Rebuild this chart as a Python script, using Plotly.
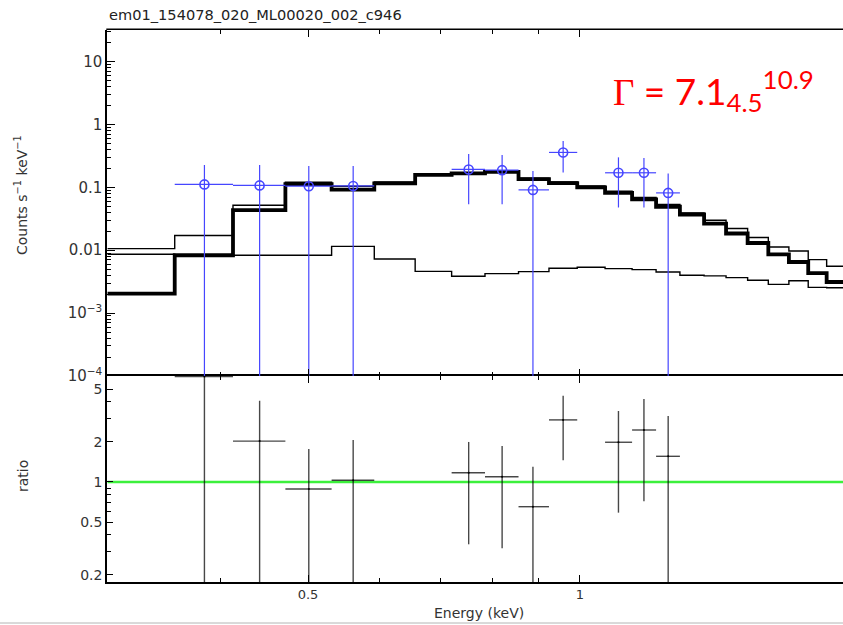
import plotly.graph_objects as go

# ---- spectral bins (keV) and folded model curves (counts s^-1 keV^-1) ----
bin_edges = [0.300, 0.356, 0.413, 0.472, 0.531, 0.592, 0.657, 0.721, 0.785,
             0.855, 0.924, 0.993, 1.066, 1.142, 1.214, 1.290, 1.372, 1.451,
             1.533, 1.616, 1.703, 1.789, 1.875, 1.970]
model_source = [0.00204, 0.0083, 0.0432, 0.112, 0.092, 0.115, 0.157, 0.166,
                0.176, 0.1345, 0.116, 0.0993, 0.0814, 0.064, 0.049, 0.0369,
                0.0265, 0.0184, 0.0130, 0.0086, 0.00649, 0.00433, 0.00312]
model_total = [0.0106, 0.0171, 0.0519, 0.120, 0.104, 0.122, 0.162, 0.171,
               0.181, 0.139, 0.121, 0.105, 0.0865, 0.069, 0.0535, 0.0391,
               0.0299, 0.0221, 0.0159, 0.01124, 0.0097, 0.00708, 0.00554]
model_bkg = [0.0086, 0.0085, 0.0083, 0.0083, 0.0115, 0.00723, 0.00461,
             0.00385, 0.00424, 0.00456, 0.00515, 0.00534, 0.0051, 0.00491,
             0.0045, 0.0040, 0.0039, 0.00366, 0.00332, 0.00286, 0.00327,
             0.00256, 0.00253]

# ---- grouped data points ----
e_mid = [0.384, 0.442, 0.501, 0.561, 0.753, 0.820, 0.887, 0.958, 1.103, 1.177, 1.252]
e_lo = [0.356, 0.413, 0.472, 0.531, 0.721, 0.785, 0.855, 0.924, 1.066, 1.142, 1.214]
e_hi = [0.413, 0.472, 0.531, 0.592, 0.785, 0.855, 0.924, 0.993, 1.142, 1.214, 1.290]
rate = [0.111, 0.107, 0.104, 0.105, 0.192, 0.187, 0.0909, 0.358, 0.170, 0.170, 0.0814]
rate_hi = [0.225, 0.225, 0.217, 0.217, 0.337, 0.325, 0.182, 0.542, 0.299, 0.292, 0.166]
rate_lo = [0, 0, 0, 0, 0.0538, 0.0538, 0, 0.172, 0.0477, 0.0477, 0]
ratio = [6.2, 2.03, 0.886, 1.03, 1.175, 1.096, 0.652, 2.93, 1.99, 2.46, 1.56]
ratio_hi = [30, 4.09, 1.77, 2.07, 2.0, 1.865, 1.30, 4.45, 3.42, 4.21, 3.13]
ratio_lo = [0, 0, 0, 0, 0.34, 0.317, 0, 1.46, 0.588, 0.716, 0]

top_ticks = [1e-4, 1e-3, 0.01, 0.1, 1, 10]
top_ticktext = ["10<sup>\u22124</sup>", "10<sup>\u22123</sup>", "0.01", "0.1", "1", "10"]
ratio_ticks = [0.2, 0.5, 1, 2, 5]
ratio_ticktext = ["0.2", "0.5", "1", "2", "5"]
energy_ticks = [0.5, 1]
energy_ticktext = ["0.5", "1"]

title_text = "em01_154078_020_ML00020_002_c946"
gamma_text = ('<span style="font-family:Liberation Serif">\u0393</span>'
              ' = 7.1<sub>4.5</sub><sup>10.9</sup>')

# ---- page geometry ----
W, H = 843, 625
L, R, T, B = 107, 0, 30, 43
PW, PH = W - L - R, H - T - B
split_px = 376


def px(x):
    return (x - L) / PW


def py(y):
    return (H - B - y) / PH


split = py(split_px)


def step_xy(vals):
    return bin_edges, list(vals) + [vals[-1]]


fig = go.Figure()

for vals, width in [(model_bkg, 1.4), (model_total, 1.4), (model_source, 3.8)]:
    xs, ys = step_xy(vals)
    fig.add_trace(go.Scatter(x=xs, y=ys, mode="lines", line_shape="hv",
                             line=dict(color="black", width=width),
                             xaxis="x2", yaxis="y2", hoverinfo="skip"))

blue = "rgb(70,70,255)"
fig.add_trace(go.Scatter(
    x=e_mid, y=rate, mode="markers", xaxis="x2", yaxis="y2",
    marker=dict(symbol="circle-open", size=9, color=blue, line=dict(width=1.6)),
    error_x=dict(type="data", symmetric=False,
                 array=[h - m for h, m in zip(e_hi, e_mid)],
                 arrayminus=[m - l for m, l in zip(e_mid, e_lo)],
                 color=blue, thickness=1.2, width=0),
    error_y=dict(type="data", symmetric=False,
                 array=[h - r for h, r in zip(rate_hi, rate)],
                 arrayminus=[r - l for r, l in zip(rate, rate_lo)],
                 color=blue, thickness=1.2, width=0),
))

# unity line of the ratio panel
fig.add_trace(go.Scatter(x=[bin_edges[0], bin_edges[-1]], y=[1, 1], mode="lines",
                         line=dict(color="#3cf03c", width=2.5),
                         xaxis="x", yaxis="y", hoverinfo="skip"))

grey = "rgba(0,0,0,0.72)"
fig.add_trace(go.Scatter(
    x=e_mid, y=ratio, mode="markers", xaxis="x", yaxis="y",
    marker=dict(size=2, color="black"),
    error_x=dict(type="data", symmetric=False,
                 array=[h - m for h, m in zip(e_hi, e_mid)],
                 arrayminus=[m - l for m, l in zip(e_mid, e_lo)],
                 color=grey, thickness=1.4, width=0),
    error_y=dict(type="data", symmetric=False,
                 array=[h - r for h, r in zip(ratio_hi, ratio)],
                 arrayminus=[r - l for r, l in zip(ratio, ratio_lo)],
                 color=grey, thickness=1.4, width=0),
))

tick_font = dict(family="DejaVu Sans", size=14, color="#333")
x_minor = [0.3, 0.4, 0.6, 0.7, 0.8, 0.9]
top_minor = [k * 10.0 ** n for n in range(-4, 2) for k in range(2, 10)]
ratio_minor = [0.3, 0.4, 0.6, 0.7, 0.8, 0.9, 3, 4]

xrange_log = [-0.5235, 0.2911]
common_x = dict(type="log", range=xrange_log, linecolor="black",
                linewidth=1.5, mirror="ticks", ticks="inside", ticklen=7,
                tickwidth=1.3, tickcolor="black", showgrid=False, zeroline=False,
                tickmode="array", tickvals=energy_ticks, ticktext=energy_ticktext,
                minor=dict(ticks="inside", ticklen=4, tickwidth=1.2,
                           tickcolor="black", tickvals=x_minor, showgrid=False))

fig.update_layout(
    width=W, height=H, margin=dict(l=L, r=R, t=T, b=B),
    paper_bgcolor="white", plot_bgcolor="white", showlegend=False,
    xaxis=dict(common_x, anchor="y", showline=True,
               tickfont=dict(tick_font, size=13)),
    # the panel boundary line is drawn once, by the lower axis' mirror
    xaxis2=dict(common_x, anchor="y2", matches="x", showline=False,
                showticklabels=False),
    yaxis=dict(type="log", domain=[0, split], range=[-0.752, 0.797],
               showline=True, linecolor="black", linewidth=1.5, ticks="inside",
               ticklen=6, tickwidth=1.3, tickcolor="black", showgrid=False,
               zeroline=False, tickmode="array", tickvals=ratio_ticks,
               ticktext=ratio_ticktext, tickfont=tick_font, anchor="x",
               minor=dict(ticks="inside", ticklen=4, tickwidth=1.2,
                          tickcolor="black", tickvals=ratio_minor, showgrid=False)),
    yaxis2=dict(type="log", domain=[split, 1], range=[-4, 1.5],
                showline=True, linecolor="black", linewidth=1.5, ticks="inside",
                ticklen=8, tickwidth=1.3, tickcolor="black", showgrid=False,
                zeroline=False, tickmode="array", tickvals=top_ticks,
                ticktext=top_ticktext, tickfont=dict(tick_font, size=15), anchor="x2",
                minor=dict(ticks="inside", ticklen=4, tickwidth=1.2,
                           tickcolor="black", tickvals=top_minor, showgrid=False)),
)

# top frame edge of the spectrum panel
fig.add_shape(type="line", xref="paper", yref="paper", x0=px(106.3), x1=1,
              y0=py(29.3), y1=py(29.3), line=dict(color="black", width=1.5))

label_font = dict(family="DejaVu Sans", size=14, color="#333")
fig.add_annotation(text=title_text, x=px(107), y=py(15), xref="paper", yref="paper",
                   xanchor="left", yanchor="middle", showarrow=False,
                   font=dict(family="DejaVu Sans", size=14.6, color="#222"))
fig.add_annotation(text="Counts s<sup>\u22121</sup> keV<sup>\u22121</sup>",
                   x=px(21), y=py(195), xref="paper", yref="paper", textangle=-90,
                   xanchor="center", yanchor="middle", showarrow=False,
                   font=label_font)
fig.add_annotation(text="ratio", x=px(23), y=py(476), xref="paper", yref="paper",
                   textangle=-90, xanchor="center", yanchor="middle",
                   showarrow=False, font=label_font)
fig.add_annotation(text="Energy (keV)", x=px(479), y=py(613), xref="paper",
                   yref="paper", xanchor="center", yanchor="middle",
                   showarrow=False, font=label_font)
fig.add_annotation(text=gamma_text, x=px(611), y=py(90), xref="paper", yref="paper",
                   xanchor="left", yanchor="middle", showarrow=False,
                   font=dict(family="Lato", size=37, color="#ff0000"))

# thin rule along the page foot
fig.add_shape(type="line", xref="paper", yref="paper", x0=px(0), x1=1,
              y0=py(623), y1=py(623), line=dict(color="#b4b4b4", width=1))

fig.write_html("out.html")
